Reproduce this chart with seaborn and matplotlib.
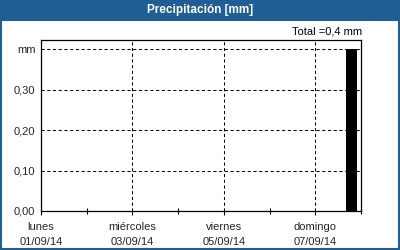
import matplotlib
matplotlib.use("Agg")
import matplotlib.pyplot as plt
import seaborn as sns
import pandas as pd
import numpy as np
from matplotlib.patches import Rectangle
from matplotlib.ticker import FixedLocator, FixedFormatter

# ---- data ----
period_start = ["2014-09-07 16:00"]
period_hours = [6]
precip_mm = [0.4]
axis_start = "2014-09-01 00:00"
axis_days = 7
major_labels = ["lunes\n01/09/14", "miércoles\n03/09/14", "viernes\n05/09/14", "domingo\n07/09/14"]
ytick_values = [0.0, 0.1, 0.2, 0.3, 0.4]
ytick_labels = ["0,00", "0,10", "0,20", "0,30", "mm"]
title = "Precipitación [mm]"
total_text = "Total =0,4 mm"

sns.set_theme(style="white")
plt.rcParams['font.family'] = ['Liberation Sans', 'DejaVu Sans']

t0 = pd.Timestamp(axis_start)
starts = np.array([(pd.Timestamp(s) - t0) / pd.Timedelta(days=1) for s in period_start])
widths = np.array(period_hours) / 24.0
df = pd.DataFrame({"t": starts + widths / 2, "mm": precip_mm})
edges = sorted(set(list(starts) + list(starts + widths)))

fig = plt.figure(figsize=(4, 2.5), dpi=100)
blue = "#1f5f95"
fig.patches.append(Rectangle((0, 1 - 21 / 250), 1, 21 / 250, transform=fig.transFigure,
                             facecolor=blue, edgecolor="none", zorder=0))
fig.patches.append(Rectangle((0.002, 0.003), 0.996, 0.994, transform=fig.transFigure,
                             facecolor="none", edgecolor=blue, lw=1.5, zorder=5))
fig.text(0.5, 1 - 10.5 / 250, title, color="white", fontsize=8.5, fontweight="bold",
         ha="center", va="center")

ax = fig.add_axes([41 / 400, 39 / 250, 320 / 400, 171 / 250])
sns.histplot(data=df, x="t", weights="mm", bins=edges, color="black", alpha=1,
             edgecolor="none", linewidth=0, ax=ax)
ax.set_xlim(0, axis_days)
ax.set_ylim(0, 0.423)
ax.set_xlabel("")
ax.set_ylabel("")

ax.xaxis.set_major_locator(FixedLocator(np.arange(0, axis_days, 2)))
ax.xaxis.set_major_formatter(FixedFormatter(major_labels))
ax.xaxis.set_minor_locator(FixedLocator(np.arange(1, axis_days + 1, 2)))
ax.yaxis.set_major_locator(FixedLocator(ytick_values))
ax.yaxis.set_major_formatter(FixedFormatter(ytick_labels))

ax.tick_params(axis="x", which="major", direction="out", length=3, width=0.8,
               color="black", labelsize=8, pad=5, bottom=True)
ax.tick_params(axis="x", which="minor", direction="inout", length=5, width=0.8,
               color="black", bottom=True)
ax.tick_params(axis="y", which="major", length=0, labelsize=8, pad=4)
for lab in ax.get_xticklabels():
    lab.set_linespacing(1.55)

ax.grid(True, axis="both", which="major", color="black", linestyle=(0, (3, 2.5)), lw=0.75)
ax.set_axisbelow(True)
for s in ax.spines.values():
    s.set_color("black")
    s.set_linewidth(0.9)
    s.set_visible(True)

fig.text(362 / 400, 1 - 32 / 250, total_text, fontsize=8, ha="right", va="center", color="black")

fig.savefig("out.png", dpi=100, facecolor="white")
